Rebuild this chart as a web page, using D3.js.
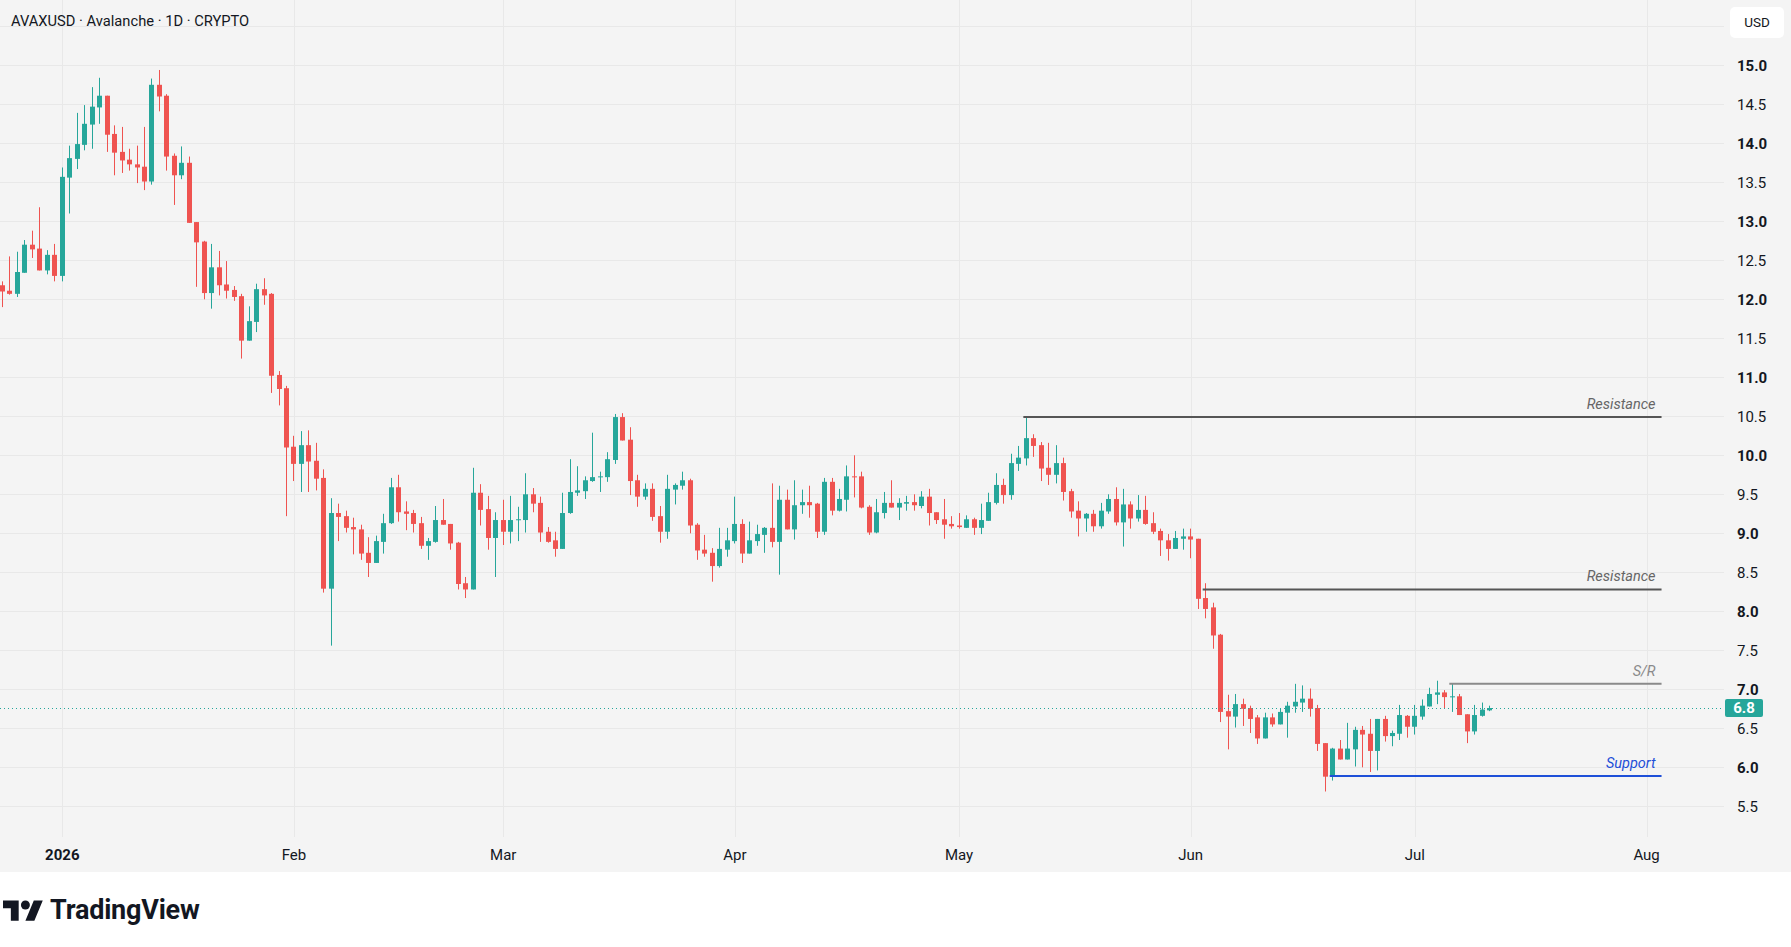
<!DOCTYPE html>
<meta charset="utf-8">
<style>body{margin:0;background:#fff}</style>
<svg width="1791" height="947" font-family="Roboto, 'Noto Sans', sans-serif"></svg>
<script src="https://cdn.jsdelivr.net/npm/d3@7"></script>
<script>

// daily candles, first one on 2025-12-24
var firstDay = "2025-12-24";

var opens = [
  12.18,12.11,12.07,12.34,12.70,12.65,12.37,12.57,12.30,13.56,
  13.80,13.98,14.24,14.46,14.61,14.12,13.89,13.79,13.73,13.70,
  13.51,14.75,14.61,13.84,13.59,13.75,12.99,12.74,12.08,12.41,
  12.19,12.12,12.04,11.47,11.71,12.13,12.07,11.03,10.86,10.11,
  9.89,10.13,9.93,9.71,8.29,9.26,9.22,9.08,9.05,8.75,
  8.62,8.89,9.13,9.59,9.28,9.26,9.13,8.84,8.89,9.17,
  9.12,8.88,8.36,8.28,9.52,9.31,8.94,9.17,9.02,9.17,
  9.17,9.50,9.39,9.02,8.91,8.80,9.26,9.52,9.54,9.67,
  9.72,9.72,9.94,10.49,10.20,9.68,9.47,9.57,9.22,9.02,
  9.56,9.61,9.68,9.11,8.79,8.75,8.58,8.79,8.90,9.12,
  8.74,8.90,8.98,9.07,8.89,9.43,9.05,9.36,9.40,9.38,
  9.02,9.66,9.29,9.43,9.73,9.73,9.34,9.01,9.26,9.39,
  9.33,9.38,9.40,9.35,9.47,9.27,9.18,9.12,9.10,9.07,
  9.18,9.07,9.16,9.39,9.62,9.49,9.89,9.96,10.22,10.13,
  9.84,9.75,9.90,9.54,9.29,9.19,9.25,9.09,9.28,9.44,
  9.14,9.37,9.19,9.30,9.13,9.03,8.91,8.80,8.93,8.96,
  8.93,8.17,8.05,7.70,6.72,6.65,6.81,6.76,6.64,6.37,
  6.64,6.55,6.70,6.78,6.83,6.88,6.76,6.31,5.88,6.24,
  6.10,6.23,6.48,6.43,6.21,6.62,6.40,6.43,6.66,6.52,
  6.65,6.78,6.93,6.96,6.90,6.91,6.68,6.46,6.66,6.73
];

var highs = [
  12.23,12.55,12.61,12.76,12.88,13.18,12.63,12.71,13.69,13.97,
  14.39,14.49,14.72,14.84,14.61,14.23,14.21,13.93,13.97,14.21,
  14.83,14.94,14.63,13.87,13.96,13.83,12.99,12.75,12.71,12.62,
  12.49,12.17,12.07,11.91,12.20,12.27,12.08,11.08,10.89,10.25,
  10.31,10.32,10.16,9.82,9.45,9.38,9.29,9.20,9.11,8.95,
  8.97,9.25,9.71,9.75,9.41,9.30,9.21,8.94,9.35,9.44,
  9.12,8.89,8.44,9.84,9.63,9.48,9.27,9.43,9.48,9.34,
  9.77,9.58,9.47,9.08,9.02,9.52,9.95,9.86,9.73,10.29,
  9.79,10.04,10.53,10.54,10.36,9.75,9.64,9.64,9.35,9.75,
  9.64,9.79,9.70,9.13,8.98,8.81,9.07,9.07,9.47,9.18,
  9.15,9.11,9.08,9.64,9.61,9.56,9.68,9.56,9.61,9.39,
  9.71,9.71,9.57,9.87,10.00,9.79,9.36,9.44,9.53,9.68,
  9.45,9.48,9.50,9.54,9.57,9.27,9.44,9.22,9.26,9.23,
  9.20,9.38,9.52,9.77,9.70,10.02,10.12,10.49,10.27,10.17,
  10.16,10.13,9.97,9.57,9.41,9.26,9.30,9.39,9.50,9.59,
  9.57,9.41,9.49,9.48,9.27,9.06,8.99,9.03,9.06,9.06,
  8.93,8.36,8.11,7.71,6.93,6.94,6.88,6.79,6.67,6.70,
  6.69,6.75,6.84,7.07,7.05,7.01,6.80,6.31,6.25,6.35,
  6.57,6.52,6.53,6.62,6.62,6.66,6.47,6.80,6.67,6.80,
  6.87,7.02,7.11,6.99,7.07,6.94,6.68,6.80,6.83,6.79
];

var lows = [
  11.90,12.06,12.03,12.34,12.53,12.37,12.32,12.23,12.23,13.10,
  13.67,13.91,13.93,14.25,13.89,13.59,13.62,13.65,13.49,13.40,
  13.47,14.41,13.65,13.21,13.54,12.98,12.16,12.00,11.88,12.05,
  12.01,11.98,11.24,11.47,11.58,11.93,10.80,10.64,9.22,9.67,
  9.53,9.53,9.55,8.24,7.56,8.90,9.01,8.73,8.66,8.44,
  8.62,8.74,9.12,9.15,9.04,9.01,8.80,8.66,8.88,9.11,
  8.79,8.28,8.17,8.28,9.10,8.79,8.44,8.85,8.87,8.90,
  9.01,9.27,8.89,8.88,8.70,8.80,9.25,9.48,9.44,9.66,
  9.53,9.66,9.89,10.19,9.49,9.34,9.43,9.16,8.88,8.93,
  9.37,9.56,9.00,8.66,8.70,8.38,8.56,8.70,8.87,8.62,
  8.74,8.84,8.75,8.82,8.47,9.05,8.92,9.25,9.20,8.94,
  8.98,9.23,9.28,9.28,9.46,9.32,8.98,9.00,9.19,9.33,
  9.17,9.29,9.29,9.32,9.10,9.12,8.93,9.06,9.06,9.07,
  8.98,8.99,9.16,9.37,9.38,9.43,9.80,9.87,9.98,9.67,
  9.62,9.64,9.42,9.20,8.96,9.02,9.02,9.06,9.25,9.10,
  8.83,9.06,9.15,9.11,8.99,8.71,8.65,8.80,8.79,8.68,
  8.03,7.91,7.52,6.58,6.23,6.51,6.53,6.44,6.30,6.37,
  6.52,6.55,6.38,6.70,6.71,6.65,6.21,5.69,5.83,6.10,
  6.10,6.01,6.00,5.94,5.96,6.33,6.27,6.35,6.38,6.42,
  6.61,6.78,6.81,6.75,6.71,6.67,6.31,6.42,6.65,6.72
];

var closes = [
  12.10,12.07,12.35,12.70,12.64,12.37,12.57,12.30,13.57,13.81,
  13.99,14.25,14.47,14.61,14.11,13.88,13.78,13.73,13.69,13.51,
  14.75,14.60,13.83,13.59,13.75,12.98,12.73,12.08,12.41,12.18,
  12.11,12.03,11.47,11.72,12.13,12.05,11.02,10.85,10.10,9.89,
  10.13,9.92,9.70,8.29,9.26,9.21,9.07,9.05,8.74,8.62,
  8.90,9.13,9.59,9.27,9.25,9.12,8.84,8.90,9.17,9.11,
  8.87,8.35,8.28,9.52,9.30,8.94,9.17,9.02,9.17,9.18,
  9.50,9.38,9.01,8.89,8.80,9.26,9.53,9.55,9.68,9.72,
  9.73,9.95,10.49,10.19,9.67,9.47,9.57,9.21,9.02,9.57,
  9.62,9.68,9.10,8.78,8.74,8.58,8.80,8.91,9.12,8.74,
  8.91,8.99,9.07,8.89,9.43,9.05,9.36,9.40,9.36,9.02,
  9.66,9.29,9.44,9.73,9.72,9.33,9.01,9.27,9.39,9.33,
  9.39,9.40,9.36,9.47,9.26,9.17,9.11,9.09,9.08,9.18,
  9.07,9.17,9.40,9.62,9.49,9.90,9.97,10.22,10.12,9.83,
  9.75,9.90,9.53,9.28,9.19,9.25,9.09,9.29,9.44,9.14,
  9.37,9.19,9.30,9.12,9.02,8.91,8.80,8.94,8.96,8.92,
  8.16,8.03,7.69,6.71,6.65,6.81,6.75,6.62,6.37,6.64,
  6.55,6.71,6.79,6.84,6.88,6.75,6.30,5.88,6.24,6.10,
  6.24,6.48,6.42,6.21,6.62,6.40,6.44,6.67,6.52,6.66,
  6.79,6.94,6.96,6.90,6.91,6.67,6.46,6.67,6.74,6.76
];

var priceTicks = [5.5, 6, 6.5, 7, 7.5, 8, 8.5, 9, 9.5, 10, 10.5, 11, 11.5, 12, 12.5, 13, 13.5, 14, 14.5, 15];
var monthTicks = ["2026-01-01", "2026-02-01", "2026-03-01", "2026-04-01", "2026-05-01", "2026-06-01", "2026-07-01", "2026-08-01"];
var monthLabels = ["2026", "Feb", "Mar", "Apr", "May", "Jun", "Jul", "Aug"];

// drawn horizontal levels
var levelNames = ["Resistance", "Resistance", "S/R", "Support"];
var levelValues = [10.49, 8.28, 7.07, 5.89];
var levelStarts = ["2026-05-10", "2026-06-03", "2026-07-06", "2026-06-20"];
var levelEnd = "2026-08-03";
var levelColors = ["#555555", "#555555", "#8a8a8a", "#1e4fd8"];
var levelTextColors = ["#666666", "#666666", "#8a8a8a", "#1e4fd8"];

var up = "#26a69a", down = "#ef5350";

var svg = d3.select("svg"),
    width = +svg.attr("width"),
    height = +svg.attr("height"),
    plotW = 1724,
    plotH = 837,
    axisH = 872;

var parse = d3.utcParse("%Y-%m-%d");
var day0 = parse(firstDay);

var data = opens.map(function(o, i) {
  return {date: d3.utcDay.offset(day0, i), open: o, high: highs[i], low: lows[i], close: closes[i]};
});

var x = d3.scaleUtc()
    .domain([parse("2026-01-01"), parse("2026-08-01")])
    .range([62.3, 1646.6]);

var y = d3.scaleLinear()
    .domain([5.5, 15])
    .range([806.3, 65.3]);

// background panels
svg.append("rect").attr("width", width).attr("height", height).attr("fill", "#fff");
svg.append("rect").attr("width", width).attr("height", axisH).attr("fill", "#f4f4f4");

svg.append("defs").append("clipPath").attr("id", "plot")
  .append("rect").attr("width", plotW).attr("height", plotH);

var grid = svg.append("g").attr("stroke", "#e8e8e8").attr("stroke-width", 1);

grid.selectAll(".h")
  .data(priceTicks.concat([15.5]))
  .enter().append("line")
    .attr("x1", 0).attr("x2", plotW)
    .attr("y1", function(d) { return Math.round(y(d)) + 0.5; })
    .attr("y2", function(d) { return Math.round(y(d)) + 0.5; });

grid.selectAll(".v")
  .data(monthTicks)
  .enter().append("line")
    .attr("y1", 0).attr("y2", plotH)
    .attr("x1", function(d) { return Math.round(x(parse(d))) + 0.5; })
    .attr("x2", function(d) { return Math.round(x(parse(d))) + 0.5; });

var plot = svg.append("g").attr("clip-path", "url(#plot)");

// candles
var candle = plot.append("g")
  .selectAll("g")
  .data(data)
  .enter().append("g")
    .attr("fill", function(d) { return d.close >= d.open ? up : down; });

candle.append("rect")
    .attr("x", function(d) { return Math.round(x(d.date) - 0.5); })
    .attr("width", 1)
    .attr("y", function(d) { return y(d.high); })
    .attr("height", function(d) { return Math.max(1, y(d.low) - y(d.high)); });

candle.append("rect")
    .attr("x", function(d) { return Math.round(x(d.date) - 0.5) - 2; })
    .attr("width", 5)
    .attr("y", function(d) { return y(Math.max(d.open, d.close)); })
    .attr("height", function(d) { return Math.max(1, Math.abs(y(d.open) - y(d.close))); });

// last price line
var last = data[data.length - 1];
plot.append("line")
    .attr("x1", 0).attr("x2", plotW)
    .attr("y1", Math.round(y(last.close)) + 0.5)
    .attr("y2", Math.round(y(last.close)) + 0.5)
    .attr("stroke", up)
    .attr("stroke-dasharray", "1,3");

// level lines
var level = plot.append("g")
  .selectAll("g")
  .data(levelValues)
  .enter().append("g");

level.append("line")
    .attr("x1", function(d, i) { return x(parse(levelStarts[i])) - 3; })
    .attr("x2", x(parse(levelEnd)))
    .attr("y1", function(d) { return y(d); })
    .attr("y2", function(d) { return y(d); })
    .attr("stroke", function(d, i) { return levelColors[i]; })
    .attr("stroke-width", 2);

level.append("text")
    .attr("x", x(parse(levelEnd)) - 6)
    .attr("y", function(d) { return y(d) - 8; })
    .attr("text-anchor", "end")
    .attr("font-style", "italic")
    .attr("font-size", 14.5)
    .attr("fill", function(d, i) { return levelTextColors[i]; })
    .text(function(d, i) { return levelNames[i]; });

// price axis
svg.append("g")
  .selectAll("text")
  .data(priceTicks)
  .enter().append("text")
    .attr("x", 1737)
    .attr("y", function(d) { return y(d); })
    .attr("dy", "0.35em")
    .attr("font-size", 15)
    .attr("font-weight", function(d) { return d % 1 === 0 ? 700 : 400; })
    .attr("fill", "#131722")
    .text(d3.format(".1f"));

// last price tag
svg.append("rect")
    .attr("x", 1725).attr("width", 38)
    .attr("y", y(last.close) - 9).attr("height", 18)
    .attr("rx", 2)
    .attr("fill", up);

svg.append("text")
    .attr("x", 1744)
    .attr("y", y(last.close))
    .attr("dy", "0.35em")
    .attr("text-anchor", "middle")
    .attr("font-size", 15)
    .attr("font-weight", 700)
    .attr("fill", "#fff")
    .text(d3.format(".1f")(last.close));

// currency box
svg.append("rect")
    .attr("x", 1730).attr("y", 7).attr("width", 54).attr("height", 31)
    .attr("rx", 5)
    .attr("fill", "#fff");

svg.append("text")
    .attr("x", 1757).attr("y", 22.5)
    .attr("dy", "0.35em")
    .attr("text-anchor", "middle")
    .attr("font-size", 13.5)
    .attr("fill", "#131722")
    .text("USD");

// time axis
svg.append("g")
  .selectAll("text")
  .data(monthTicks)
  .enter().append("text")
    .attr("x", function(d) { return x(parse(d)); })
    .attr("y", 855)
    .attr("dy", "0.35em")
    .attr("text-anchor", "middle")
    .attr("font-size", 15)
    .attr("font-weight", function(d, i) { return i === 0 ? 700 : 400; })
    .attr("fill", "#131722")
    .text(function(d, i) { return monthLabels[i]; });

// title
svg.append("text")
    .attr("x", 11).attr("y", 21)
    .attr("dy", "0.35em")
    .attr("font-size", 14.7)
    .attr("fill", "#131722")
    .text("AVAXUSD \u00b7 Avalanche \u00b7 1D \u00b7 CRYPTO");

// branding
var logo = svg.append("g")
    .attr("transform", "translate(3,896) scale(1.12)")
    .attr("fill", "#131722");
logo.append("path").attr("d", "M14 22H7V11H0V4h14v18zM28 22h-8l7.5-18h8L28 22z");
logo.append("circle").attr("cx", 20).attr("cy", 8).attr("r", 4);

svg.append("text")
    .attr("x", 50).attr("y", 919)
    .attr("font-size", 27)
    .attr("font-weight", 700)
    .attr("letter-spacing", -0.2)
    .attr("fill", "#131722")
    .text("TradingView");

</script>
